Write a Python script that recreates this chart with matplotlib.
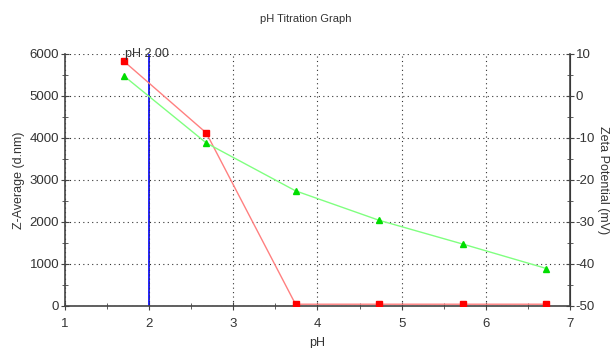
import matplotlib
matplotlib.use("Agg")
from matplotlib import pyplot as plt
from matplotlib.ticker import MultipleLocator

ph = [1.70, 2.68, 3.74, 4.73, 5.73, 6.72]
z_average = [5830, 4120, 40, 40, 40, 40]
zeta = [4.8, -11.2, -22.6, -29.6, -35.3, -41.1]
marker_ph = 2.0

plt.rcParams["font.family"] = ["Liberation Sans", "DejaVu Sans"]
plt.rcParams["font.size"] = 9.5
plt.rcParams["axes.unicode_minus"] = False

fig = plt.figure(figsize=(6.11, 3.48), dpi=100)
ax = fig.add_axes([0.106, 0.121, 0.827, 0.724])
ax2 = ax.twinx()

ax.plot(ph, z_average, color="#ff8080", lw=1, marker="s", ms=4.5,
        mfc="red", mec="red", zorder=3)
ax2.plot(ph, zeta, color="#80ff80", lw=1, marker="^", ms=5,
         mfc="#00dd00", mec="#00dd00", zorder=3)

ax.axvline(marker_ph, color="blue", lw=1.2, zorder=2)
ax.axvline(marker_ph, color="#333366", lw=0.6, ls=(0, (2, 2)), zorder=2)
ax.text(marker_ph - 0.28, 6000, "pH %.2f" % marker_ph, fontsize=9,
        color="#333333", va="center", ha="left")

ax.set_xlim(1, 7)
ax.set_ylim(0, 6000)
ax2.set_ylim(-50, 10)
ax.xaxis.set_major_locator(MultipleLocator(1))
ax.xaxis.set_minor_locator(MultipleLocator(0.5))
ax.yaxis.set_major_locator(MultipleLocator(1000))
ax.yaxis.set_minor_locator(MultipleLocator(500))
ax2.yaxis.set_major_locator(MultipleLocator(10))
ax2.yaxis.set_minor_locator(MultipleLocator(5))

ax.grid(True, which="major", color="#333333", ls=(0, (1, 3)), lw=0.8)

for a in (ax, ax2):
    a.spines["top"].set_visible(False)
    a.tick_params(which="both", direction="inout", color="#444444",
                  labelcolor="#333333", pad=1)
    a.tick_params(which="major", length=6)
    a.tick_params(which="minor", length=5)
ax.tick_params(axis="x", pad=6)
for s in ("left", "bottom"):
    ax.spines[s].set_color("#444444")
    ax.spines[s].set_linewidth(1.2)
ax2.spines["right"].set_color("#444444")
ax2.spines["right"].set_linewidth(1.2)
ax2.spines["left"].set_visible(False)
ax2.spines["bottom"].set_visible(False)

ax.set_xlabel("pH", color="#333333", fontsize=9, labelpad=5)
ax.set_ylabel("Z-Average (d.nm)", color="#333333", fontsize=9, labelpad=3)
ax2.set_ylabel("Zeta Potential (mV)", color="#333333", fontsize=9,
               rotation=270, labelpad=10)
fig.suptitle("pH Titration Graph", y=0.96, fontsize=8, color="#333333")

fig.savefig("out.png", dpi=100)
